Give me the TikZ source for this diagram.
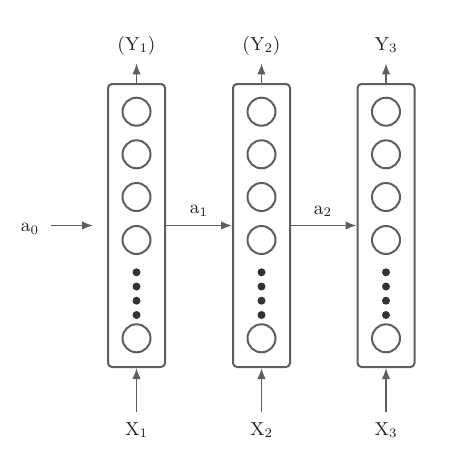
\documentclass[tikz,border=0pt]{standalone}
\usetikzlibrary{arrows.meta}
\newlength{\du}
\setlength{\du}{0.5pt}
\definecolor{dialinecolor}{rgb}{0.370000, 0.370000, 0.370000}
\definecolor{dotcolor}{rgb}{0.200000, 0.200000, 0.200000}
\definecolor{labelcolor}{rgb}{0.130000, 0.130000, 0.130000}
\tikzset{
  layerbox/.style={draw=dialinecolor, line width=2\du, rounded corners=4\du, minimum width=57\du, minimum height=283\du, inner sep=0pt},
  unit/.style={circle, draw=dialinecolor, line width=2\du, minimum size=28\du, inner sep=0pt},
  dotunit/.style={circle, fill=dotcolor, minimum size=8\du, inner sep=0pt},
  lbl/.style={anchor=base, inner sep=0pt, text height=7pt, text depth=2.5pt, text=labelcolor, font=\fontsize{9.4}{11}\selectfont},
  flow/.style={draw=dialinecolor, line width=1.5\du, -{Latex[length=5.5pt,width=4.2pt]}}
}

\begin{document}
\begin{tikzpicture}
\pgftransformxscale{1.000000}
\pgftransformyscale{-1.000000}
\useasboundingbox (0\du,0\du) rectangle (450\du,472\du);
% boxes
\node[layerbox] (box1) at (136.500000\du,225.500000\du){};
\node[layerbox] (box2) at (261.500000\du,225.500000\du){};
\node[layerbox] (box3) at (386.000000\du,225.500000\du){};
% units of box 1
\node[unit] (u11) at (136.500000\du,111.700000\du){};
\node[unit] (u12) at (136.500000\du,154.300000\du){};
\node[unit] (u13) at (136.500000\du,197.000000\du){};
\node[unit] (u14) at (136.500000\du,240.000000\du){};
\node[dotunit] (d11) at (136.500000\du,272.300000\du){};
\node[dotunit] (d12) at (136.500000\du,286.500000\du){};
\node[dotunit] (d13) at (136.500000\du,300.700000\du){};
\node[dotunit] (d14) at (136.500000\du,315.000000\du){};
\node[unit] (u15) at (136.500000\du,338.300000\du){};
% units of box 2
\node[unit] (u21) at (261.500000\du,111.700000\du){};
\node[unit] (u22) at (261.500000\du,154.300000\du){};
\node[unit] (u23) at (261.500000\du,197.000000\du){};
\node[unit] (u24) at (261.500000\du,240.000000\du){};
\node[dotunit] (d21) at (261.500000\du,272.300000\du){};
\node[dotunit] (d22) at (261.500000\du,286.500000\du){};
\node[dotunit] (d23) at (261.500000\du,300.700000\du){};
\node[dotunit] (d24) at (261.500000\du,315.000000\du){};
\node[unit] (u25) at (261.500000\du,338.300000\du){};
% units of box 3
\node[unit] (u31) at (386.000000\du,111.700000\du){};
\node[unit] (u32) at (386.000000\du,154.300000\du){};
\node[unit] (u33) at (386.000000\du,197.000000\du){};
\node[unit] (u34) at (386.000000\du,240.000000\du){};
\node[dotunit] (d31) at (386.000000\du,272.300000\du){};
\node[dotunit] (d32) at (386.000000\du,286.500000\du){};
\node[dotunit] (d33) at (386.000000\du,300.700000\du){};
\node[dotunit] (d34) at (386.000000\du,315.000000\du){};
\node[unit] (u35) at (386.000000\du,338.300000\du){};
% labels
\node[lbl] (y1) at (136.500000\du,50.000000\du){(Y\textsubscript{1})};
\node[lbl] (y2) at (261.500000\du,50.000000\du){(Y\textsubscript{2})};
\node[lbl] (y3) at (386.000000\du,50.000000\du){Y\textsubscript{3}};
\node[lbl] (x1) at (136.500000\du,435.000000\du){X\textsubscript{1}};
\node[lbl] (x2) at (261.500000\du,435.000000\du){X\textsubscript{2}};
\node[lbl] (x3) at (386.000000\du,435.000000\du){X\textsubscript{3}};
\node[lbl] (a0) at (30.000000\du,231.500000\du){a\textsubscript{0}};
\node[lbl] (a1) at (199.000000\du,213.500000\du){a\textsubscript{1}};
\node[lbl] (a2) at (323.000000\du,214.000000\du){a\textsubscript{2}};
% arrows
\draw[flow, shorten <=12\du, shorten >=14\du] (a0.east |- box1.west)--(box1.west);
\draw[flow] (box1.east)--(box2.west);
\draw[flow] (box2.east)--(box3.west);
\draw[flow, shorten >=8\du] (box1.north)--(y1.south);
\draw[flow, shorten >=8\du] (box2.north)--(y2.south);
\draw[flow, shorten >=8\du] (box3.north)--(y3.south);
\draw[flow, shorten <=9\du] (x1.north)--(box1.south);
\draw[flow, shorten <=9\du] (x2.north)--(box2.south);
\draw[flow, shorten <=9\du] (x3.north)--(box3.south);
\end{tikzpicture}
\end{document}
